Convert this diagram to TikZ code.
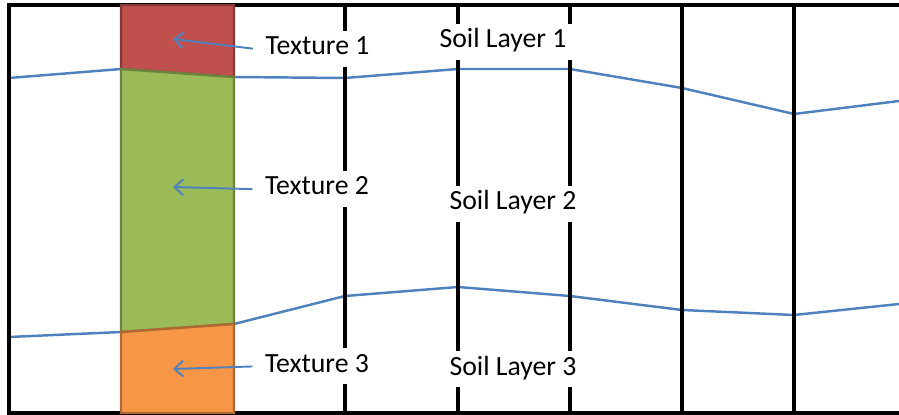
\documentclass[tikz,border=0pt]{standalone}
\usepackage{fontspec}
\setmainfont{Carlito}
\usepackage{tikz}
\usetikzlibrary{arrows.meta}

\definecolor{layerblue}{HTML}{4F81BD}
\definecolor{texred}{HTML}{C0504D}
\definecolor{texgreen}{HTML}{9BBB59}
\definecolor{texorange}{HTML}{F79646}

\begin{document}
\begin{tikzpicture}[x=0.02cm,y=-0.02cm,
    lbl/.style={fill=white, font=\fontsize{15.8}{19}\selectfont, text height=0.75em,
      text depth=0.1em, inner xsep=4pt, inner ysep=6pt, anchor=base},
    pointer/.style={layerblue, line width=1.1pt, shorten <=3pt,
      -{Straight Barb[length=5pt,width=9pt]}},
    boundary/.style={layerblue, line width=1.4pt}]
  \useasboundingbox (0,0) rectangle (899,415);
  % layer boundaries
  \draw[boundary] (9,78) -- (121,69) -- (234,77) -- (345,78) -- (458,69) -- (570,69) -- (682,88) -- (794,114) -- (899,101);
  \draw[boundary] (9,337) -- (121,332) -- (234,324) -- (345,296) -- (458,287) -- (570,296) -- (682,310) -- (794,315) -- (899,304);
  % grid columns and frame
  \foreach \x in {345,458,570,682,794} \draw[line width=2pt] (\x,5) -- (\x,413);
  \draw[line width=2pt] (899,5) -- (9,5) -- (9,413) -- (899,413);
  % texture column
  \filldraw[fill=texred, draw=texred!70!black, line width=1.4pt] (121,5) -- (234,5) -- (234,77) -- (121,69) -- cycle;
  \filldraw[fill=texgreen, draw=texgreen!70!black, line width=1.4pt] (121,69) -- (234,77) -- (234,324) -- (121,332) -- cycle;
  \filldraw[fill=texorange, draw=texorange!70!black, line width=1.4pt] (121,332) -- (234,324) -- (234,413) -- (121,413) -- cycle;
  \coordinate (h1) at (173,39);
  \coordinate (h2) at (173,187);
  \coordinate (h3) at (173,369);
  % labels
  \node[lbl] (t1) at (317.5,55) {Texture 1};
  \node[lbl] (t2) at (317,195) {Texture 2};
  \node[lbl] (t3) at (317,372) {Texture 3};
  \node[lbl] (s1) at (503,48) {Soil Layer 1};
  \node[lbl] (s2) at (513,210) {Soil Layer 2};
  \node[lbl] (s3) at (513,375) {Soil Layer 3};
  \draw[pointer] (t1.west) -- (h1);
  \draw[pointer] (t2.west) -- (h2);
  \draw[pointer] (t3.west) -- (h3);
\end{tikzpicture}
\end{document}
